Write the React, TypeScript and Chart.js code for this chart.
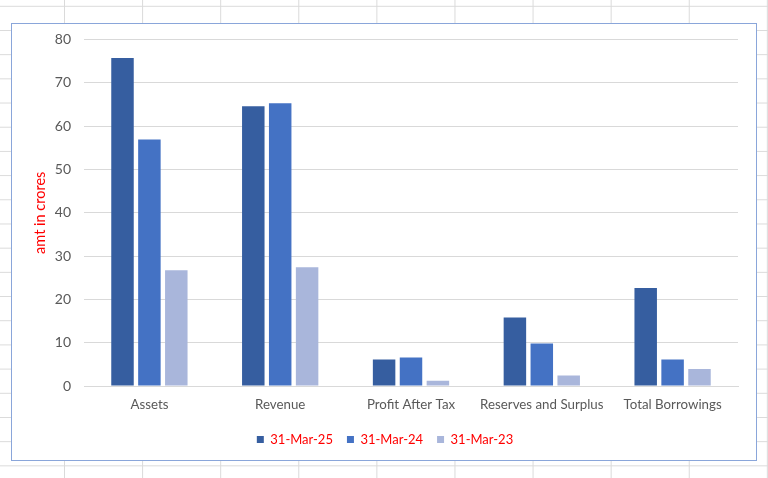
import React, { useEffect, useRef } from "react";
import { Chart, registerables } from "chart.js";

Chart.register(...registerables);

const categories = ["Assets", "Revenue", "Profit After Tax", "Reserves and Surplus", "Total Borrowings"];
const seriesNames = ["31-Mar-25", "31-Mar-24", "31-Mar-23"];
const mar25 = [75.7, 64.6, 6.1, 15.8, 22.6];
const mar24 = [56.9, 65.3, 6.6, 9.8, 6.1];
const mar23 = [26.7, 27.4, 1.2, 2.4, 3.9];
const seriesColors = ["#365EA0", "#4472C4", "#A9B6DB"];
const yMin = 0;
const yMax = 80;
const yStep = 10;
const yTitle = "amt in crores";

const FONT = "Lato, 'Open Sans', sans-serif";

export default function App() {
  const ref = useRef<HTMLCanvasElement | null>(null);

  useEffect(() => {
    const canvas = ref.current;
    if (!canvas) return;
    const values = [mar25, mar24, mar23];
    const chart = new Chart(canvas, {
      type: "bar",
      data: {
        labels: categories,
        datasets: seriesNames.map((name, i) => ({
          label: name,
          data: values[i],
          backgroundColor: seriesColors[i],
          borderWidth: 0,
          barPercentage: 0.836,
          categoryPercentage: 0.617,
        })),
      },
      options: {
        responsive: false,
        animation: false,
        maintainAspectRatio: false,
        layout: { padding: { left: 20, right: 18, top: 15.5, bottom: 4 } },
        plugins: {
          tooltip: { enabled: false },
          legend: {
            position: "bottom",
            labels: {
              boxWidth: 7,
              boxHeight: 7,
              padding: 14,
              color: "#FF0000",
              font: { family: FONT, size: 13 },
            },
          },
        },
        scales: {
          x: {
            grid: { display: false, drawTicks: false },
            border: { display: true, color: "#D9D9D9", width: 1 },
            ticks: { color: "#595959", padding: 11, font: { family: FONT, size: 13.3 } },
            afterFit: (s: any) => {
              s.height = 33;
            },
          },
          y: {
            min: yMin,
            max: yMax,
            ticks: {
              stepSize: yStep,
              color: "#595959",
              padding: 13,
              font: { family: FONT, size: 14 },
            },
            grid: { color: "#D9D9D9", lineWidth: 1, drawTicks: false },
            border: { display: false },
            title: {
              display: true,
              text: yTitle,
              color: "#FF0000",
              font: { family: FONT, size: 14.5 },
              padding: { top: 0, bottom: 0 },
            },
            afterFit: (s: any) => {
              s.width = 52;
              s.paddingTop = 0;
              s.paddingBottom = 0;
            },
          },
        },
      },
    });
    return () => chart.destroy();
  }, []);

  return (
    <div
      style={{
        position: "fixed",
        left: 0,
        top: 0,
        width: 768,
        height: 478,
        background: "#FFFFFF",
        backgroundImage:
          "linear-gradient(to right, #DADADA 1px, transparent 1px), linear-gradient(to bottom, #DADADA 1px, transparent 1px)",
        backgroundSize: "78.1px 24.2px",
        backgroundPosition: "64px 5.8px",
      }}
    >
      <div
        style={{
          position: "absolute",
          left: 11,
          top: 23,
          width: 744,
          height: 436,
          border: "1px solid #8AA6DA",
          background: "#FFFFFF",
        }}
      >
        <canvas ref={ref} width={744} height={436} style={{ display: "block", width: 744, height: 436 }} />
      </div>
    </div>
  );
}
